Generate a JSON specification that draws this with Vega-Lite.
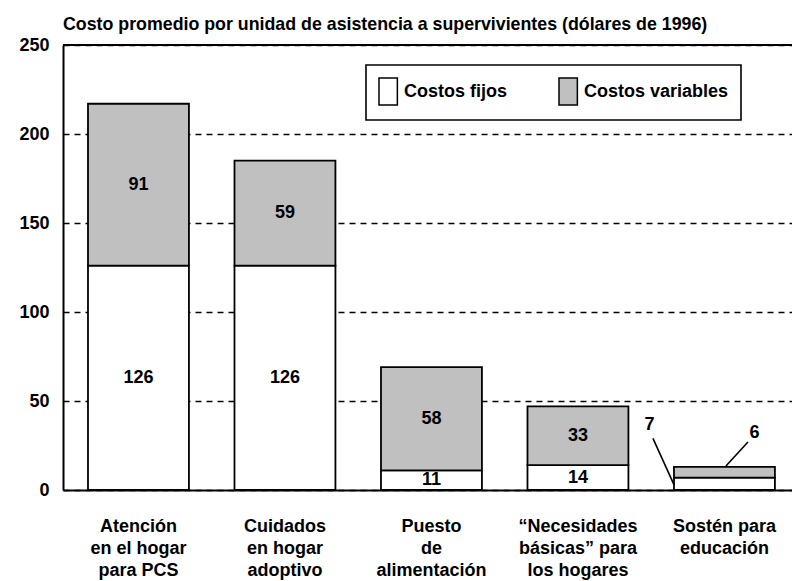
{
  "$schema": "https://vega.github.io/schema/vega-lite/v6.json",
  "width": 729,
  "height": 445,
  "autosize": {"type": "none"},
  "padding": {"left": 63, "top": 45, "right": 0, "bottom": 91},
  "background": "white",
  "config": {
    "font": "Liberation Sans",
    "view": {"stroke": null},
    "axis": {"labelColor": "black", "labelFont": "Liberation Sans", "labelFontWeight": "bold"}
  },
  "title": {
    "text": "Costo promedio por unidad de asistencia a supervivientes (dólares de 1996)",
    "anchor": "start",
    "frame": "group",
    "fontSize": 17.8,
    "fontWeight": "bold",
    "color": "black",
    "baseline": "bottom",
    "offset": 12,
    "dy": 28
  },
  "datasets": {
    "costos": [
      {"cat": "Atención|en el hogar|para PCS", "tipo": "Costos fijos", "orden": 1, "valor": 126},
      {"cat": "Atención|en el hogar|para PCS", "tipo": "Costos variables", "orden": 2, "valor": 91},
      {"cat": "Cuidados|en hogar|adoptivo", "tipo": "Costos fijos", "orden": 1, "valor": 126},
      {"cat": "Cuidados|en hogar|adoptivo", "tipo": "Costos variables", "orden": 2, "valor": 59},
      {"cat": "Puesto|de|alimentación", "tipo": "Costos fijos", "orden": 1, "valor": 11},
      {"cat": "Puesto|de|alimentación", "tipo": "Costos variables", "orden": 2, "valor": 58},
      {"cat": "“Necesidades|básicas” para|los hogares", "tipo": "Costos fijos", "orden": 1, "valor": 14},
      {"cat": "“Necesidades|básicas” para|los hogares", "tipo": "Costos variables", "orden": 2, "valor": 33},
      {"cat": "Sostén para|educación", "tipo": "Costos fijos", "orden": 1, "valor": 7},
      {"cat": "Sostén para|educación", "tipo": "Costos variables", "orden": 2, "valor": 6}
    ],
    "notas": [
      {"cat": "Sostén para|educación", "tipo": "Costos fijos", "etiqueta": "7"},
      {"cat": "Sostén para|educación", "tipo": "Costos variables", "etiqueta": "6"}
    ]
  },
  "layer": [
    {
      "data": {"name": "costos"},
      "mark": {"type": "bar", "stroke": "black", "strokeWidth": 1.8},
      "encoding": {
        "x": {
          "field": "cat",
          "type": "nominal",
          "scale": {
            "domain": ["Atención|en el hogar|para PCS", "Cuidados|en hogar|adoptivo", "Puesto|de|alimentación", "“Necesidades|básicas” para|los hogares", "Sostén para|educación"],
            "paddingInner": 0.311,
            "paddingOuter": 0.1436,
            "align": 0.594
          },
          "axis": {
            "title": null,
            "labelExpr": "split(datum.label, '|')",
            "labelAngle": 0,
            "labelFontSize": 18,
            "labelLineHeight": 22,
            "labelPadding": 27,
            "labelBaseline": "top",
            "ticks": false,
            "domainColor": "black",
            "domainWidth": 2
          }
        },
        "y": {
          "field": "valor",
          "type": "quantitative",
          "stack": "zero",
          "scale": {"domain": [0, 250], "nice": false},
          "axis": {
            "title": null,
            "values": [0, 50, 100, 150, 200, 250],
            "grid": true,
            "gridDash": [6, 5],
            "gridColor": "black",
            "gridWidth": 1.6,
            "gridOpacity": 1,
            "ticks": false,
            "domainColor": "black",
            "domainWidth": 2,
            "labelFontSize": 18,
            "labelPadding": 14
          }
        },
        "color": {
          "field": "tipo",
          "type": "nominal",
          "scale": {"domain": ["Costos fijos", "Costos variables"], "range": ["#ffffff", "#c0c0c0"]},
          "legend": {
            "title": null,
            "orient": "none",
            "legendX": 303,
            "legendY": 20,
            "direction": "horizontal",
            "strokeColor": "black",
            "fillColor": "white",
            "padding": 12,
            "columnPadding": 48,
            "labelFontSize": 18,
            "labelFontWeight": "bold",
            "labelColor": "black",
            "labelFont": "Liberation Sans",
            "labelOffset": -3,
            "symbolType": "M-1,-1L0.36,-1L0.36,1L-1,1Z",
            "symbolSize": 729,
            "symbolStrokeColor": "black",
            "symbolStrokeWidth": 1.5,
            "symbolOpacity": 1,
            "encode": {
              "legend": {"update": {"strokeWidth": {"value": 1.6}}}
            }
          }
        },
        "order": {"field": "orden", "type": "quantitative"}
      }
    },
    {
      "data": {"name": "costos"},
      "transform": [
        {"stack": "valor", "groupby": ["cat"], "sort": [{"field": "orden"}], "as": ["v0", "v1"]},
        {"calculate": "(datum.v0 + datum.v1) / 2", "as": "medio"},
        {"filter": "datum.cat != 'Sostén para|educación'"}
      ],
      "mark": {"type": "text", "fontSize": 18, "fontWeight": "bold", "color": "black", "baseline": "middle", "font": "Liberation Sans"},
      "encoding": {
        "x": {"field": "cat", "type": "nominal", "sort": null},
        "y": {"field": "medio", "type": "quantitative"},
        "text": {"field": "valor", "type": "quantitative"}
      }
    },
    {
      "data": {"name": "notas"},
      "transform": [{"filter": "datum.etiqueta == '7'"}],
      "mark": {"type": "text", "fontSize": 18, "fontWeight": "bold", "color": "black", "baseline": "middle", "dx": -75, "font": "Liberation Sans"},
      "encoding": {
        "x": {"field": "cat", "type": "nominal", "sort": null},
        "y": {"datum": 36.5},
        "text": {"field": "etiqueta"}
      }
    },
    {
      "data": {"name": "notas"},
      "transform": [{"filter": "datum.etiqueta == '6'"}],
      "mark": {"type": "text", "fontSize": 18, "fontWeight": "bold", "color": "black", "baseline": "middle", "dx": 30, "font": "Liberation Sans"},
      "encoding": {
        "x": {"field": "cat", "type": "nominal", "sort": null},
        "y": {"datum": 32},
        "text": {"field": "etiqueta"}
      }
    },
    {
      "data": {"name": "notas"},
      "transform": [{"filter": "datum.etiqueta == '7'"}],
      "mark": {"type": "rule", "color": "black", "strokeWidth": 1.6, "xOffset": -50.5, "x2Offset": -71.5},
      "encoding": {
        "x": {"field": "cat", "type": "nominal", "sort": null},
        "x2": {"field": "cat"},
        "y": {"datum": 3},
        "y2": {"datum": 29}
      }
    },
    {
      "data": {"name": "notas"},
      "transform": [{"filter": "datum.etiqueta == '6'"}],
      "mark": {"type": "rule", "color": "black", "strokeWidth": 1.6, "xOffset": 1.5, "x2Offset": 23.5},
      "encoding": {
        "x": {"field": "cat", "type": "nominal", "sort": null},
        "x2": {"field": "cat"},
        "y": {"datum": 13.5},
        "y2": {"datum": 27}
      }
    },
    {
      "data": {"values": [{"tope": 250}]},
      "mark": {"type": "rule", "color": "black", "strokeWidth": 2},
      "encoding": {"y": {"field": "tope", "type": "quantitative"}}
    }
  ]
}
